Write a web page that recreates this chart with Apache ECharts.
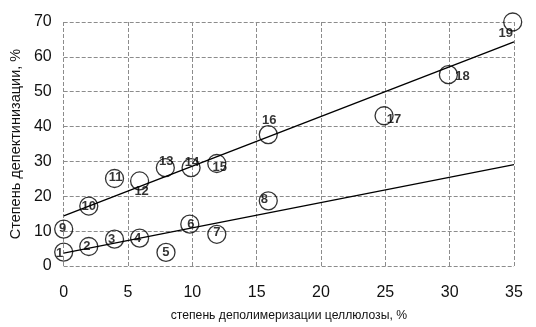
<!DOCTYPE html>
<html>
<head>
<meta charset="utf-8">
<script src="https://cdn.jsdelivr.net/npm/echarts@6/dist/echarts.min.js"></script>
<style>html,body{margin:0;padding:0;background:#fff}#c{width:536px;height:327px}</style>
</head>
<body>
<div id="c"></div>
<script>
// ---- data ----
const pointNames = ['1','2','3','4','5','6','7','8','9','10','11','12','13','14','15','16','17','18','19'];
const pointX = [0, 1.95, 3.95, 5.9, 7.95, 9.8, 11.9, 15.9, 0, 1.95, 3.95, 5.9, 7.9, 9.9, 11.9, 15.9, 24.9, 29.9, 34.9];
const pointY = [4.0, 5.6, 7.7, 8.0, 3.9, 12.0, 9.1, 18.7, 10.6, 17.2, 25.1, 24.4, 28.2, 28.2, 29.4, 37.7, 43.1, 54.9, 70.0];
const upperTrendX = [0, 35];
const upperTrendY = [14.4, 64.3];
const lowerTrendX = [0, 35];
const lowerTrendY = [3.7, 29.1];
const xTitle = 'степень деполимеризации целлюлозы, %';
const yTitle = 'Степень депектинизации, %';

// label offsets (style only, pixels)
const labelOffsets = [[-4,1],[-2,0],[-3,0],[-2,0],[0,0],[1,0],[0,-2],[-4,-1],[-1,-1],[0,0],[1,-1],[2,10],[1,-6],[1,-5],[3,4],[1,-14],[10,4],[14,2],[-7,11]];

const pts = pointX.map((x, i) => ({
  value: [x, pointY[i]],
  name: pointNames[i],
  label: { offset: labelOffsets[i] }
}));
const upper = upperTrendX.map((x, i) => [x, upperTrendY[i]]);
const lower = lowerTrendX.map((x, i) => [x, lowerTrendY[i]]);

const gridLine = { show: true, lineStyle: { color: '#8c8c8c', type: [4, 2], width: 1 } };
const font = 'Liberation Sans, Arial, sans-serif';

const chart = echarts.init(document.getElementById('c'), null, { renderer: 'canvas' });
chart.setOption({
  animation: false,
  backgroundColor: '#fff',
  grid: { left: 61.5, right: 22, top: 22, bottom: 60 },
  xAxis: {
    type: 'value', min: 0, max: 35, interval: 5,
    name: xTitle, nameLocation: 'middle', nameGap: 44,
    nameTextStyle: { fontFamily: font, fontSize: 12.2, color: '#111' },
    axisLine: { show: false }, axisTick: { show: false },
    axisLabel: { fontFamily: font, fontSize: 16, color: '#111', margin: 19 },
    splitLine: gridLine
  },
  yAxis: {
    type: 'value', min: 0, max: 70, interval: 10,
    name: yTitle, nameLocation: 'middle', nameGap: 34,
    nameTextStyle: { fontFamily: font, fontSize: 14.5, color: '#111' },
    axisLine: { show: false }, axisTick: { show: false },
    axisLabel: { fontFamily: font, fontSize: 16, color: '#111', margin: 12 },
    splitLine: gridLine
  },
  series: [
    {
      type: 'line', data: upper, showSymbol: false, symbol: 'none',
      lineStyle: { color: '#000', width: 1.4 }, z: 3
    },
    {
      type: 'line', data: lower, showSymbol: false, symbol: 'none',
      lineStyle: { color: '#000', width: 1.4 }, z: 3
    },
    {
      type: 'scatter', data: pts, symbol: 'circle', symbolSize: 18, clip: false,
      itemStyle: { color: 'rgba(255,255,255,0)', borderColor: '#000', borderWidth: 1.3 },
      label: {
        show: true, position: 'inside', formatter: p => p.name,
        fontFamily: font, fontSize: 13, fontWeight: 'bold', color: '#000'
      },
      z: 4
    }
  ]
});
</script>
</body>
</html>
